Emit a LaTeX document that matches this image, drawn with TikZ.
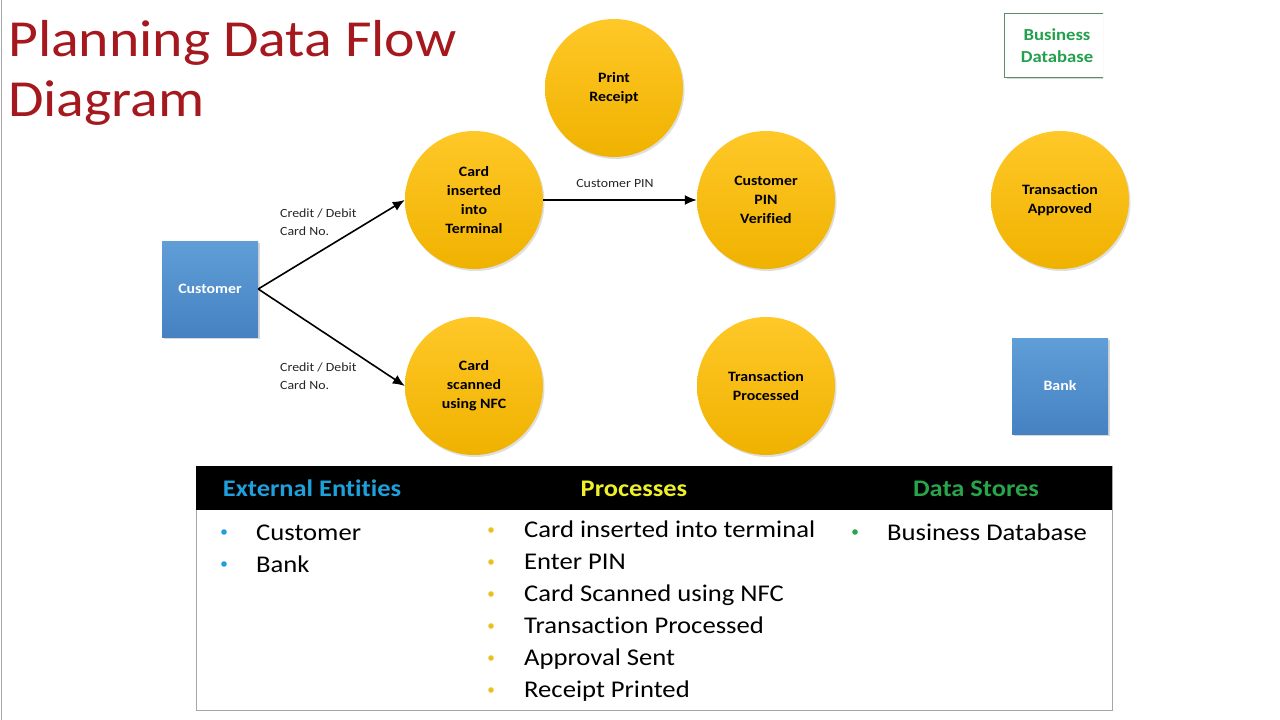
\documentclass[tikz,border=0pt]{standalone}
\usepackage{fontspec}
\setmainfont{Carlito}[FakeStretch=1.11, Ligatures=NoCommon]
\usetikzlibrary{arrows.meta,shadows}
\definecolor{titlered}{RGB}{165,25,30}
\definecolor{goldtop}{RGB}{255,200,40}
\definecolor{goldbot}{RGB}{240,178,0}
\definecolor{bluetop}{RGB}{95,158,215}
\definecolor{bluebot}{RGB}{70,130,195}
\definecolor{hdrblue}{RGB}{30,160,220}
\definecolor{hdryellow}{RGB}{240,240,40}
\definecolor{hdrgreen}{RGB}{40,165,75}
\definecolor{bulgold}{RGB}{240,190,30}
\definecolor{dsgreen}{RGB}{34,160,75}
\tikzset{
  proc/.style={circle, minimum size=138pt, inner sep=0pt, align=center,
    top color=goldtop, bottom color=goldbot, draw=none,
    drop shadow={opacity=0.25, shadow xshift=1.5pt, shadow yshift=-2pt},
    font=\bfseries\fontsize{14.3}{19}\selectfont, text=black},
  entity/.style={rectangle, minimum size=96pt, inner sep=0pt,
    top color=bluetop, bottom color=bluebot, draw=none,
    drop shadow={opacity=0.3, shadow xshift=1.5pt, shadow yshift=-2pt},
    font=\bfseries\fontsize{14.3}{17}\selectfont, text=white},
  flow/.style={-{Latex[length=12pt,width=10pt]}, line width=1.6pt, black},
  flowlbl/.style={font=\fontsize{12.5}{18}\selectfont, align=left, inner sep=0pt, text=black!85},
  hdr/.style={font=\bfseries\fontsize{23.8}{26}\selectfont, anchor=base, inner sep=0pt},
  item/.style={font=\fontsize{24}{28}\selectfont, anchor=base west, inner sep=0pt, text=black},
  ttl/.style={font=\fontsize{52}{60}\selectfont, text=titlered, anchor=base west, inner sep=0pt}
}
\begin{document}
\begin{tikzpicture}[x=1pt,y=-1pt]
\useasboundingbox (0,0) rectangle (1280,720);
\fill[white] (0,0) rectangle (1280,720);
\draw[gray!70, line width=1pt] (1,0) -- (1,720);

% title
\node[ttl] (title1) at (8,56) {Planning Data Flow};
\node[ttl] (title2) at (8,116) {Diagram};

% data store box (clipped at its right end, as in the slide)
\begin{scope}
\clip (990,0) rectangle (1103,95);
\node[rectangle, minimum width=104pt, minimum height=63pt, inner sep=0pt, fill=white,
  drop shadow={opacity=0.3, shadow xshift=1.5pt, shadow yshift=-2pt},
  font=\bfseries\fontsize{16.8}{22}\selectfont, text=dsgreen, align=center]
  (ds) at (1057,45.5) {Business\\Database};
\draw[gray!60!dsgreen, line width=0.8pt] (ds.north east) -- (ds.north west) -- (ds.south west) -- (ds.south east);
\end{scope}

% processes
\node[proc] (print) at (614,88) {Print\\Receipt};
\node[proc] (cin) at (474,200) {Card\\inserted\\into\\Terminal};
\node[proc] (pin) at (766,200) {Customer\\PIN\\Verified};
\node[proc] (appr) at (1060,200) {Transaction\\Approved};
\node[proc] (nfc) at (474,386) {Card\\scanned\\using NFC};
\node[proc] (tproc) at (766,386) {Transaction\\Processed};

% entities
\node[entity] (cust) at (210,289) {Customer};
\node[entity] (bank) at (1060,386) {Bank};

% flows
\draw[flow] (cust.east) -- (cin.west);
\draw[flow] (cust.east) -- (nfc.west);
\draw[flow] (cin.east) -- (pin.west);
\node[flowlbl, anchor=west] (l1) at (280,222) {Credit / Debit\\Card No.};
\node[flowlbl, anchor=west] (l2) at (280,376) {Credit / Debit\\Card No.};
\node[flowlbl, anchor=center] (l3) at (615,183) {Customer PIN};

% table
\draw[gray!70, line width=1pt] (196,466) rectangle (1112,710);
\fill[black] (196,466) rectangle (1112,510);
\node[hdr, text=hdrblue] (h1) at (312,496) {External Entities};
\node[hdr, text=hdryellow] (h2) at (634,496) {Processes};
\node[hdr, text=hdrgreen] (h3) at (976,496) {Data Stores};

\foreach \y/\t [count=\i] in {540/Customer, 572/Bank}{
  \fill[hdrblue] (224,\y-8) circle (2.8);
  \node[item] (e\i) at (256,\y) {\t};
}
\foreach \y/\t [count=\i] in {537/Card inserted into terminal, 569/Enter PIN, 601/Card Scanned using NFC, 633/Transaction Processed, 665/Approval Sent, 697/Receipt Printed}{
  \fill[bulgold] (491,\y-7) circle (2.8);
  \node[item] (p\i) at (524,\y) {\t};
}
\fill[hdrgreen] (855,532) circle (2.8);
\node[item] (d1) at (887,540) {Business Database};
\end{tikzpicture}
\end{document}
